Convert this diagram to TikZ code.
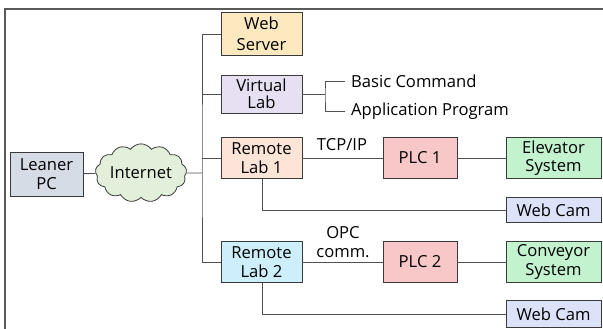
\documentclass[tikz,border=0pt]{standalone}
\usepackage{fontspec}
\setmainfont{Open Sans}
\usetikzlibrary{shapes.symbols}
\definecolor{boxline}{HTML}{3A3A3A}
\definecolor{lineg}{HTML}{505050}
\definecolor{framec}{HTML}{5A5A5A}
\definecolor{cPC}{HTML}{D6DCE5}
\definecolor{cNet}{HTML}{E2EFDA}
\definecolor{cWeb}{HTML}{FDE9BF}
\definecolor{cVirt}{HTML}{E6E0F2}
\definecolor{cRL1}{HTML}{FCE4D6}
\definecolor{cRL2}{HTML}{CDEFFB}
\definecolor{cPLC}{HTML}{F8C8C8}
\definecolor{cSys}{HTML}{C3F2CF}
\definecolor{cCam}{HTML}{DCE3F8}
\begin{document}
\begin{tikzpicture}[x=1pt,y=-1pt,
  box/.style={draw=boxline, line width=0.8pt, minimum width=81pt, minimum height=41pt, align=center, inner sep=0pt, font=\fontsize{16.6}{18.5}\selectfont},
  lbl/.style={inner sep=0pt, align=center, font=\fontsize{16.6}{18.5}\selectfont},
  conn/.style={draw=lineg, line width=0.9pt}]
\useasboundingbox (0,0) rectangle (603,329);
\draw[framec, line width=1.2pt] (5,329) -- (5,9) -- (603,9);

\node[box, fill=cPC, minimum width=73pt, minimum height=44pt] (pc) at (46.5,174) {Leaner\\PC};
\node[cloud, cloud puffs=13, cloud puff arc=110, aspect=1.8, draw=boxline, line width=0.8pt, fill=cNet, minimum width=84pt, minimum height=46pt, inner sep=0pt, font=\fontsize{16.6}{18.5}\selectfont] (net) at (141,173) {Internet};

\node[box, fill=cWeb, minimum height=43pt, font=\fontsize{16.6}{21}\selectfont] (web) at (261.5,34) {Web\\Server};
\node[box, fill=cVirt, minimum height=38pt, font=\fontsize{16.6}{17}\selectfont] (virt) at (261.5,94) {Virtual\\Lab};
\node[box, fill=cRL1] (rl1) at (261.5,158) {Remote\\Lab 1};
\node[box, fill=cRL2] (rl2) at (261.5,262) {Remote\\Lab 2};
\node[box, fill=cPLC, minimum width=74pt] (plc1) at (420,158) {PLC 1};
\node[box, fill=cPLC, minimum width=74pt] (plc2) at (420,262) {PLC 2};
\node[box, fill=cSys, minimum width=95pt] (elev) at (553.5,158) {Elevator\\System};
\node[box, fill=cSys, minimum width=95pt] (conv) at (553.5,262) {Conveyor\\System};
\node[box, fill=cCam, minimum width=95pt, minimum height=25pt] (cam1) at (553.5,210) {Web Cam};
\node[box, fill=cCam, minimum width=95pt, minimum height=27pt] (cam2) at (553.5,314) {Web Cam};

\node[lbl, anchor=west] (basic) at (351,81) {Basic Command};
\node[lbl, anchor=west] (appl) at (351,111) {Application Program};
\node[lbl] (tcp) at (342,145) {TCP/IP};
\node[lbl] (opc) at (343,242) {OPC\\comm.};

\coordinate (bus) at (202,173);
\coordinate (br) at (325,94);

\draw[conn] (pc) -- (net);
\draw[conn] (net) -- (bus);
\draw[conn] (web.west) -| (bus) |- (rl2.west);
\draw[conn] (virt.west) -- (virt.west -| bus);
\draw[conn] (rl1.west) -- (rl1.west -| bus);
\draw[conn] (virt) -- (br);
\draw[conn] ([xshift=-6pt]basic.west) -| (br) |- ([xshift=-6pt]appl.west);
\draw[conn] (rl1.south -| 262,0) |- (cam1.west);
\draw[conn] (rl2.south -| 262,0) |- (cam2.west);
\draw[conn] (rl1) -- (plc1);
\draw[conn] (plc1) -- (elev);
\draw[conn] (rl2) -- (plc2);
\draw[conn] (plc2) -- (conv);
\end{tikzpicture}
\end{document}
